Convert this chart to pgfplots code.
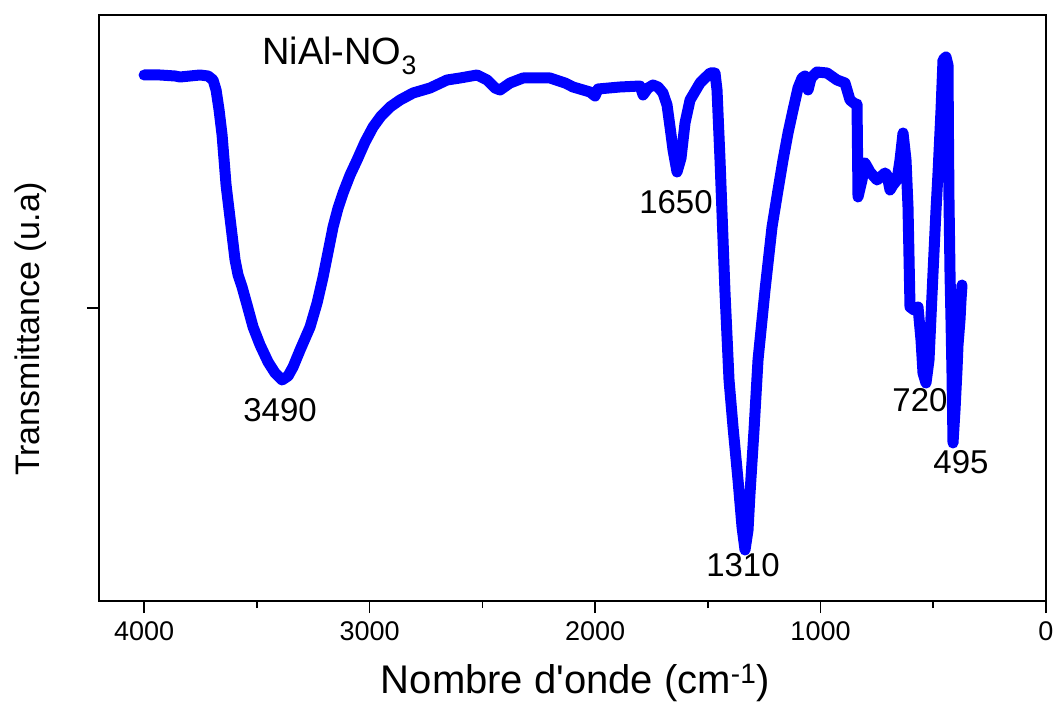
\documentclass[border=0pt]{standalone}
\usepackage{pgfplots}
\pgfplotsset{compat=1.18}
\usepackage{fontspec}
\setmainfont{Liberation Sans}
\definecolor{specblue}{RGB}{0,0,255}
\pgfplotstableread{
wn y
4000.0 526
3929.1 526
3862.5 525
3840.4 524
3751.7 526
3716.2 525
3694.0 521
3680.7 511
3667.4 491
3654.1 466
3645.2 441
3636.4 416
3623.1 391
3609.8 366
3596.5 341
3583.2 326
3565.4 314
3543.2 296
3516.6 274
3485.6 256
3450.1 239
3419.1 228
3388.0 221
3361.4 225
3339.3 234
3308.2 251
3263.9 274
3232.8 298
3206.2 324
3184.0 349
3161.9 374
3139.7 393
3117.5 408
3086.5 426
3055.4 441
3020.0 459
2984.5 474
2949.0 485
2909.1 494
2864.8 501
2807.1 508
2731.7 513
2656.3 521
2598.7 523
2523.3 526
2478.9 521
2443.5 513
2421.3 511
2376.9 518
2319.3 523
2199.6 523
2133.0 518
2097.6 514
2022.2 509
2000.0 505
1986.7 512
1889.1 514
1800.4 515
1787.1 506
1765.0 513
1742.8 516
1720.6 514
1698.5 508
1680.7 496
1667.4 474
1654.1 451
1636.4 429
1618.6 443
1600.9 478
1578.7 501
1534.4 518
1490.0 528
1467.9 528
1459.0 511
1445.7 441
1423.5 308
1405.8 221
1388.0 174
1365.9 121
1348.1 74
1334.8 51
1321.5 71
1312.6 108
1294.9 171
1277.2 241
1246.1 311
1215.1 374
1188.5 411
1166.3 441
1144.1 468
1121.9 491
1099.8 513
1082.0 523
1068.7 525
1055.4 511
1042.1 523
1015.5 529
971.2 528
926.8 521
891.4 518
869.2 501
847.0 497
838.1 497
833.7 404
816.0 421
802.7 438
780.5 429
749.4 421
714.0 428
705.1 426
691.8 411
678.5 416
660.8 421
647.5 441
634.1 468
620.8 441
612.0 394
603.1 294
585.4 291
567.6 294
554.3 261
545.5 228
532.2 218
518.8 241
501.1 328
487.8 391
478.9 428
465.6 491
456.8 541
443.5 544
434.6 536
432.4 461
430.2 401
425.7 328
421.3 281
416.9 228
412.4 158
403.5 191
394.7 231
390.2 256
381.4 281
376.9 301
372.5 316
}\spectrum
\begin{document}
\begin{tikzpicture}
\useasboundingbox (-99pt,-103pt) rectangle (957pt,601pt);
\begin{axis}[
  at={(0,0)}, anchor=south west,
  scale only axis, width=947pt, height=586pt,
  x dir=reverse, xmin=0, xmax=4200, ymin=0, ymax=586,
  axis line style={line width=1.6pt},
  xtick={0,1000,2000,3000,4000},
  minor xtick={500,1500,2500,3500},
  ytick={293}, yticklabels={},
  xtick pos=bottom, ytick pos=left,
  tick align=outside,
  major tick length=12pt, minor tick length=7pt,
  every tick/.style={line width=1.6pt, black},
  /pgf/number format/1000 sep={},
  /pgf/number format/assume math mode=true,
  xticklabel style={font=\fontsize{27}{30}\selectfont, inner sep=0pt, yshift=-8pt},
  xlabel={Nombre d\textquotesingle onde (cm\textsuperscript{-1})},
  xlabel style={at={(axis description cs:0.503,0)}, anchor=base, yshift=-92pt, font=\fontsize{40}{44}\selectfont, inner sep=0pt},
  ylabel={Transmittance (u.a)},
  ylabel style={at={(axis description cs:0,0.464)}, anchor=center, yshift=68pt, font=\fontsize{34}{38}\selectfont, inner sep=0pt},
  clip=false,
]
\addplot[specblue, line width=11pt, line join=round, line cap=round] table[x=wn, y=y] {\spectrum};
\node[anchor=base west, font=\fontsize{38}{40}\selectfont, inner sep=0pt] at (axis cs:3477,536) {NiAl-NO\textsubscript{3}};
\node[font=\fontsize{33}{36}\selectfont, inner sep=0pt] at (axis cs:3397,191) {3490};
\node[font=\fontsize{33}{36}\selectfont, inner sep=0pt] at (axis cs:1641,399) {1650};
\node[font=\fontsize{33}{36}\selectfont, inner sep=0pt] at (axis cs:1344,36) {1310};
\node[font=\fontsize{33}{36}\selectfont, inner sep=0pt] at (axis cs:559,201) {720};
\node[font=\fontsize{33}{36}\selectfont, inner sep=0pt] at (axis cs:377,139) {495};
\end{axis}
\end{tikzpicture}
\end{document}
